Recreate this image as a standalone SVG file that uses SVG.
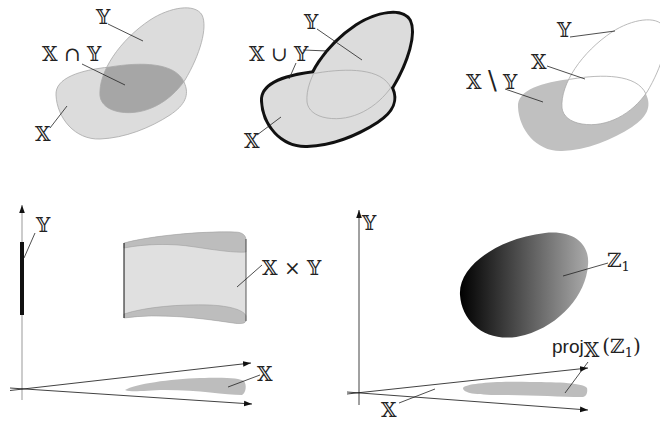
<svg xmlns="http://www.w3.org/2000/svg" width="660" height="422" viewBox="0 0 660 422">
<style>
.bb{font-family:"DejaVu Serif","DejaVu Sans",serif;font-size:20px;fill:#222}
.sf{font-family:"Liberation Sans","DejaVu Sans",sans-serif;font-size:19px;fill:#222}
.ld{stroke:#222;stroke-width:0.8;fill:none}
.ax{stroke:#111;stroke-width:0.8;fill:none}
.thin{fill:none;stroke:#a8a8a8;stroke-width:0.8}
</style>
<defs>
<path id="X" d="M56,95 C55,78 80,70 110,67 C140,62 175,62 184,82 C190,95 185,105 170,115 C150,128 125,138 100,139 C75,140 57,118 56,95 Z"/>
<path id="Y" d="M100,96 C98,72 120,40 150,20 C170,7 195,3 202,15 C208,27 200,55 185,80 C170,102 145,116 120,112 C108,110 101,104 100,96 Z"/>
<clipPath id="cX"><use href="#X"/></clipPath>
<clipPath id="cY"><use href="#Y"/></clipPath>
<marker id="ar" viewBox="0 0 10 10" refX="10" refY="5" markerWidth="8" markerHeight="8" orient="auto" markerUnits="userSpaceOnUse"><path d="M0,1.5 L10,5 L0,8.5 Z" fill="#111"/></marker>
<linearGradient id="gz" x1="0" y1="0" x2="1" y2="0"><stop offset="0" stop-color="#000"/><stop offset="1" stop-color="#aaa"/></linearGradient>
</defs>

<g id="intersection">
<use href="#X" fill="#dcdcdc"/>
<use href="#Y" fill="#dcdcdc"/>
<use href="#X" fill="#a6a6a6" clip-path="url(#cY)"/>
<use href="#X" class="thin"/>
<use href="#Y" class="thin"/>
<text class="bb" x="96" y="24">𝕐</text>
<text class="bb" x="42" y="61">𝕏 ∩ 𝕐</text>
<text class="bb" x="35" y="141">𝕏</text>
</g>

<g id="union" transform="translate(207,6)">
<use href="#X" fill="#dcdcdc" stroke="#111" stroke-width="6"/>
<use href="#Y" fill="#dcdcdc" stroke="#111" stroke-width="6"/>
<use href="#X" fill="#dcdcdc"/>
<use href="#Y" fill="#dcdcdc"/>
<use href="#X" class="thin" clip-path="url(#cY)"/>
<use href="#Y" class="thin" clip-path="url(#cX)"/>
</g>
<g id="union-labels">
<text class="bb" x="304" y="29">𝕐</text>
<text class="bb" x="249" y="61">𝕏 ∪ 𝕐</text>
<text class="bb" x="244" y="148">𝕏</text>
</g>

<g id="difference">
<g transform="translate(462,12)">
<use href="#X" fill="#c0c0c0"/>
<use href="#Y" fill="#fff" stroke="#a8a8a8" stroke-width="0.8"/>
<use href="#X" class="thin" clip-path="url(#cY)"/>
</g>
<text class="bb" x="557" y="37">𝕐</text>
<text class="bb" x="531" y="69">𝕏</text>
<text class="bb" x="466" y="89">𝕏 <tspan font-size="26">\</tspan> 𝕐</text>
</g>

<g id="product">
<line x1="22" y1="400" x2="22" y2="205" stroke="#999" stroke-width="1"/>
<line x1="22" y1="215" x2="22" y2="205" stroke="#999" stroke-width="0.1" marker-end="url(#ar)"/>
<line x1="22" y1="242" x2="22" y2="315" stroke="#111" stroke-width="4"/>
<path d="M124,243 C150,236 200,231 235,232 C243,232 246,236 246,240 L246,320 C246,324 240,324 233,323 C200,318 160,313 124,318 Z" fill="#e0e0e0"/>
<path d="M124,243 C150,236 200,231 235,232 C243,232 246,236 246,240 L246,252 C235,253 215,250 195,247 C170,243 145,244 124,248 Z" fill="#bdbdbd" stroke="#999" stroke-width="0.5"/>
<path d="M124,314 C145,307 180,304 210,305 C230,306 244,310 246,316 L246,320 C246,324 240,324 233,323 C200,318 160,313 124,318 Z" fill="#bdbdbd" stroke="#999" stroke-width="0.5"/>
<line x1="124" y1="243" x2="124" y2="318" stroke="#111" stroke-width="1"/>
<line x1="246" y1="239" x2="246" y2="321" stroke="#333" stroke-width="0.8"/>
<path d="M125,390 C135,384 170,379 200,378 C225,377 240,378 244,381 C247,385 246,393 242,395 C225,395 200,390 165,390 C145,390 133,393 125,390 Z" fill="#bdbdbd"/>
<text class="bb" x="36" y="232">𝕐</text>
<text class="bb" x="262" y="275">𝕏 × 𝕐</text>
<text class="bb" x="257" y="381">𝕏</text>
</g>

<g id="projection">
<line x1="359" y1="405" x2="359" y2="210" class="ax" marker-end="url(#ar)"/>
<path d="M460,295 C458,265 500,238 545,233 C575,230 590,245 588,265 C586,295 560,325 525,335 C490,345 462,325 460,295 Z" fill="url(#gz)"/>
<path d="M463,388 C466,383 500,381 530,382 C560,382 583,383 587,388 C588,393 586,397 582,397 C560,397 530,395 500,395 C475,395 463,393 463,388 Z" fill="#bdbdbd"/>
<text class="bb" x="362" y="230">𝕐</text>
<text class="bb" x="607" y="267">ℤ<tspan font-size="13" dy="4">1</tspan></text>
<text class="sf" x="552" y="353">proj<tspan class="bb" font-size="12" dy="4">𝕏</tspan><tspan class="bb" font-size="18" dx="3" dy="-4">(ℤ<tspan font-size="13" dy="4">1</tspan><tspan dy="-4">)</tspan></tspan></text>
<text class="bb" x="381" y="417">𝕏</text>
</g>

<g id="connectors">
<line class="ld" x1="108" y1="24" x2="143" y2="41"/>
<line class="ld" x1="82" y1="64" x2="125" y2="85"/>
<line class="ld" x1="50" y1="128" x2="67" y2="106"/>
<line class="ld" x1="317" y1="29" x2="362" y2="60"/>
<line class="ld" x1="303" y1="50" x2="328" y2="51"/>
<line class="ld" x1="296" y1="63" x2="289" y2="79"/>
<line class="ld" x1="257" y1="135" x2="281" y2="117"/>
<line class="ld" x1="570" y1="37" x2="615" y2="31"/>
<line class="ld" x1="547" y1="66" x2="585" y2="79"/>
<line class="ld" x1="505" y1="89" x2="543" y2="102"/>
<line class="ld" x1="35" y1="233" x2="24" y2="258"/>
<line class="ld" x1="262" y1="265" x2="237" y2="287"/>
<line class="ld" x1="260" y1="375" x2="228" y2="387"/>
<line class="ax" x1="10" y1="390.5" x2="251" y2="363" marker-end="url(#ar)"/>
<line class="ax" x1="10" y1="388" x2="252" y2="404" marker-end="url(#ar)"/>
<line class="ld" x1="608" y1="263" x2="563" y2="276"/>
<line class="ld" x1="588" y1="362" x2="565" y2="393"/>
<line class="ld" x1="399" y1="403" x2="435" y2="389"/>
<line class="ax" x1="347" y1="394" x2="588" y2="368" marker-end="url(#ar)"/>
<line class="ax" x1="347" y1="392" x2="588" y2="410" marker-end="url(#ar)"/>
</g>
</svg>
